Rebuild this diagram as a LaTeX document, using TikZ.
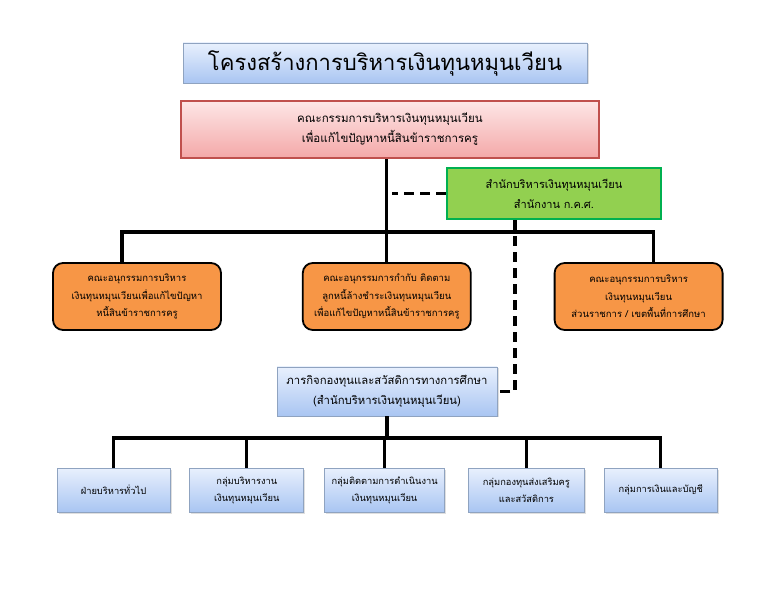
\documentclass[tikz,border=0pt]{standalone}
\usepackage{fontspec}
\newfontfamily\thaifont[Script=Thai]{Loma}
\usetikzlibrary{positioning,shadows}

\definecolor{blueedge}{HTML}{8FA3C0}
\definecolor{bluetop}{HTML}{E8F0FD}
\definecolor{bluebot}{HTML}{A9C5F2}
\definecolor{redtop}{HTML}{FDE6E6}
\definecolor{redbot}{HTML}{F4A8A8}
\definecolor{rededge}{HTML}{C0504D}
\definecolor{greenfill}{HTML}{92D050}
\definecolor{greenedge}{HTML}{00B050}
\definecolor{orangefill}{HTML}{F79646}

\begin{document}
\begin{tikzpicture}[
  x=1pt, y=1pt,
  node distance=18pt and 19pt,
  unit/.style={
    align=center,
    inner sep=2pt,
    font=\thaifont\fontsize{9.5}{17.5}\selectfont
  },
  bluebox/.style={
    unit,
    draw=blueedge,
    line width=0.8pt,
    top color=bluetop,
    bottom color=bluebot,
    drop shadow={opacity=0.25, shadow xshift=1.5pt, shadow yshift=-1.5pt}
  },
  board/.style={
    unit,
    draw=rededge,
    line width=2.6pt,
    top color=redtop,
    bottom color=redbot,
    minimum width=418pt,
    minimum height=57pt,
    font=\thaifont\fontsize{11.5}{20}\selectfont
  },
  office/.style={
    unit,
    draw=greenedge,
    line width=2.6pt,
    fill=greenfill,
    minimum width=214pt,
    minimum height=51pt,
    font=\thaifont\fontsize{11}{20}\selectfont
  },
  subcom/.style={
    unit,
    draw=black,
    line width=1.8pt,
    fill=orangefill,
    rounded corners=10pt,
    minimum width=168pt,
    minimum height=67pt
  },
  group/.style={bluebox, minimum height=44pt, font=\thaifont\fontsize{9.3}{17}\selectfont},
  conn/.style={line width=3.2pt, draw=black},
  dashline/.style={conn, dash pattern=on 10pt off 6pt}
]
\useasboundingbox (0,0) rectangle (774,-593);

% Titre et comites
\node[bluebox, minimum width=404pt, minimum height=40pt,
      font=\thaifont\fontsize{22}{26}\selectfont] (title) at (385,-63)
  {โครงสร้างการบริหารเงินทุนหมุนเวียน};
\node[board] (board) at (390,-129.5)
  {คณะกรรมการบริหารเงินทุนหมุนเวียน\\เพื่อแก้ไขปัญหาหนี้สินข้าราชการครู};
\node[office] (office) at (554,-193.5)
  {สำนักบริหารเงินทุนหมุนเวียน\\สำนักงาน ก.ค.ศ.};

% Rangee des sous-comites
\node[subcom] (sub1) at (137,-296.5)
  {คณะอนุกรรมการบริหาร\\เงินทุนหมุนเวียนเพื่อแก้ไขปัญหา\\หนี้สินข้าราชการครู};
\node[subcom, right=80pt of sub1] (sub2)
  {คณะอนุกรรมการกำกับ ติดตาม\\ลูกหนี้ล้างชำระเงินทุนหมุนเวียน\\เพื่อแก้ไขปัญหาหนี้สินข้าราชการครู};
\node[subcom, right=82pt of sub2] (sub3)
  {คณะอนุกรรมการบริหาร\\เงินทุนหมุนเวียน\\ส่วนราชการ / เขตพื้นที่การศึกษา};

% Mission
\node[bluebox, minimum width=220pt, minimum height=49pt,
      font=\thaifont\fontsize{11.3}{20}\selectfont] (mission) at (387,-391.5)
  {ภารกิจกองทุนและสวัสดิการทางการศึกษา\\(สำนักบริหารเงินทุนหมุนเวียน)};

% Rangee des groupes
\node[group, minimum width=113pt] (grp1) at (113.5,-490) {ฝ่ายบริหารทั่วไป};
\node[group, minimum width=114pt, right=of grp1] (grp2) {กลุ่มบริหารงาน\\เงินทุนหมุนเวียน};
\node[group, minimum width=120pt, right=20pt of grp2] (grp3) {กลุ่มติดตามการดำเนินงาน\\เงินทุนหมุนเวียน};
\node[group, minimum width=116pt, right=23pt of grp3] (grp4) {กลุ่มกองทุนส่งเสริมครู\\และสวัสดิการ};
\node[group, minimum width=113pt, right=of grp4] (grp5) {กลุ่มการเงินและบัญชี};

% Liaisons
\coordinate (bar1) at (386,-232);
\coordinate (bar2) at (386,-438);
\draw[conn] (board.south -| sub2.north) -- (sub2.north);
\draw[conn] ([xshift=-15pt]sub1.north) |- (bar1) -| ([xshift=15pt]sub3.north);
\draw[dashline] (office.west) -- ([xshift=5pt]office.west -| sub2.north);
\draw[dashline] ([xshift=-39pt]office.south) |- (mission.east);
\draw[conn] (mission.south) -- (mission.south |- bar2);
\draw[conn] (grp1.north) |- (bar2) -| (grp5.north);
\draw[conn] (grp2.north) -- (grp2.north |- bar2);
\draw[conn] (grp3.north) -- (grp3.north |- bar2);
\draw[conn] (grp4.north) -- (grp4.north |- bar2);
\end{tikzpicture}
\end{document}
